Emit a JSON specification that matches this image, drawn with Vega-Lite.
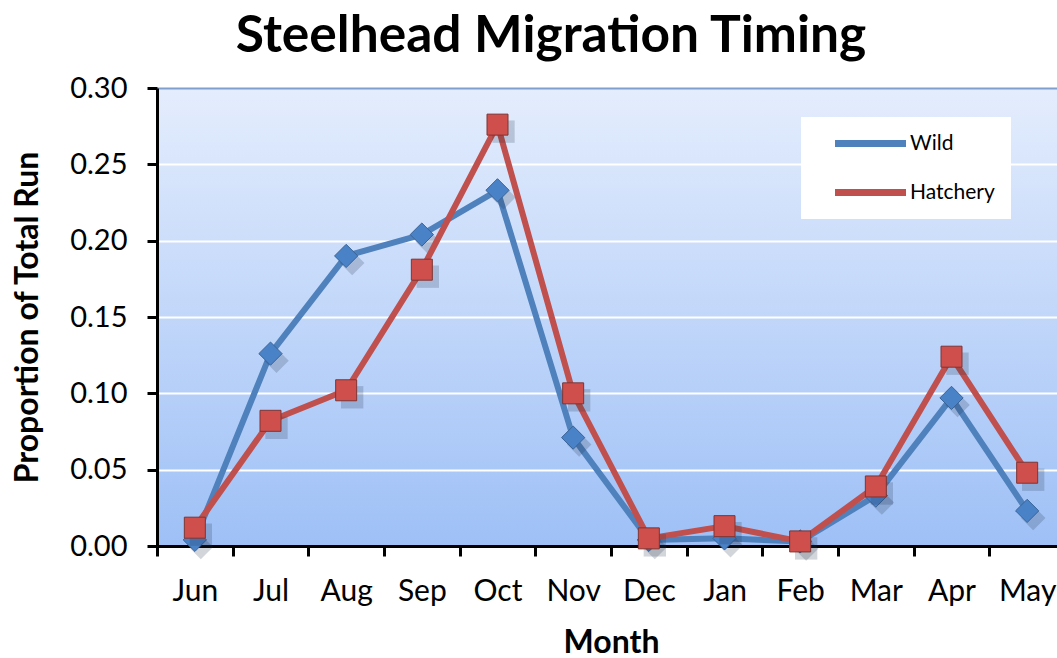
{
  "$schema": "https://vega.github.io/schema/vega-lite/v6.json",
  "width": 900,
  "height": 458,
  "autosize": {"type": "none"},
  "padding": {"left": 157, "top": 88, "right": 0, "bottom": 112},
  "background": "white",
  "title": {
    "text": "Steelhead Migration Timing",
    "font": "Lato",
    "fontSize": 51.5,
    "fontWeight": "bold",
    "color": "black",
    "anchor": "middle",
    "dx": -56,
    "offset": 12
  },
  "config": {
    "view": {
      "fill": {
        "gradient": "linear",
        "x1": 0, "y1": 0, "x2": 0, "y2": 1,
        "stops": [
          {"offset": 0, "color": "#e4edfd"},
          {"offset": 1, "color": "#9ec0f6"}
        ]
      },
      "stroke": null
    },
    "axis": {
      "labelFont": "Lato",
      "labelFontSize": 29,
      "labelColor": "black",
      "titleFont": "Lato",
      "titleFontWeight": "bold",
      "titleColor": "black",
      "domainColor": "black",
      "domainWidth": 3,
      "tickColor": "black",
      "tickWidth": 3,
      "tickSize": 10
    }
  },
  "data": {
    "values": [
      {"month": "Jun", "series": "Wild", "value": 0.004},
      {"month": "Jul", "series": "Wild", "value": 0.126},
      {"month": "Aug", "series": "Wild", "value": 0.190},
      {"month": "Sep", "series": "Wild", "value": 0.204},
      {"month": "Oct", "series": "Wild", "value": 0.233},
      {"month": "Nov", "series": "Wild", "value": 0.071},
      {"month": "Dec", "series": "Wild", "value": 0.004},
      {"month": "Jan", "series": "Wild", "value": 0.005},
      {"month": "Feb", "series": "Wild", "value": 0.003},
      {"month": "Mar", "series": "Wild", "value": 0.033},
      {"month": "Apr", "series": "Wild", "value": 0.097},
      {"month": "May", "series": "Wild", "value": 0.023},
      {"month": "Jun", "series": "Hatchery", "value": 0.012},
      {"month": "Jul", "series": "Hatchery", "value": 0.082},
      {"month": "Aug", "series": "Hatchery", "value": 0.102},
      {"month": "Sep", "series": "Hatchery", "value": 0.181},
      {"month": "Oct", "series": "Hatchery", "value": 0.276},
      {"month": "Nov", "series": "Hatchery", "value": 0.100},
      {"month": "Dec", "series": "Hatchery", "value": 0.005},
      {"month": "Jan", "series": "Hatchery", "value": 0.013},
      {"month": "Feb", "series": "Hatchery", "value": 0.003},
      {"month": "Mar", "series": "Hatchery", "value": 0.039},
      {"month": "Apr", "series": "Hatchery", "value": 0.124},
      {"month": "May", "series": "Hatchery", "value": 0.048}
    ]
  },
  "encoding": {
    "x": {
      "field": "month",
      "type": "ordinal",
      "sort": ["Jun", "Jul", "Aug", "Sep", "Oct", "Nov", "Dec", "Jan", "Feb", "Mar", "Apr", "May"],
      "scale": {"type": "band", "paddingInner": 0, "paddingOuter": 0, "range": [0, 908]},
      "axis": {
        "title": "Month",
        "titleFontSize": 32,
        "titlePadding": 21,
        "labelAngle": 0,
        "labelFontSize": 30,
        "labelPadding": 20,
        "tickBand": "extent",
        "grid": false
      }
    },
    "y": {
      "field": "value",
      "type": "quantitative",
      "scale": {"domain": [0, 0.3], "nice": false},
      "axis": {
        "title": "Proportion of Total Run",
        "titleFontSize": 32,
        "titlePadding": 25,
        "values": [0, 0.05, 0.1, 0.15, 0.2, 0.25, 0.3],
        "format": ".2f",
        "labelPadding": 20,
        "grid": true,
        "gridWidth": 2,
        "gridColor": {"condition": {"test": "datum.value >= 0.3", "value": "#7f9fcf"}, "value": "white"}
      }
    }
  },
  "layer": [
    {
      "transform": [{"filter": "datum.series === 'Wild'"}],
      "mark": {"type": "line", "strokeWidth": 6, "strokeJoin": "round", "strokeCap": "round"},
      "encoding": {
        "color": {
          "field": "series",
          "type": "nominal",
          "scale": {"domain": ["Wild", "Hatchery"], "range": ["#4f81bd", "#c0504d"]},
          "legend": {
            "title": null,
            "orient": "none",
            "legendX": 644,
            "legendY": 29,
            "fillColor": "white",
            "padding": 16,
            "symbolType": "stroke",
            "symbolStrokeWidth": 7,
            "symbolSize": 5041,
            "symbolOffset": 14.5,
            "clipHeight": 21,
            "labelFont": "Lato",
            "labelFontSize": 21,
            "labelColor": "black",
            "labelOffset": 0.5,
            "rowPadding": 27
          }
        }
      }
    },
    {
      "transform": [{"filter": "datum.series === 'Wild'"}],
      "mark": {"type": "point", "shape": "diamond", "size": 600, "filled": true, "color": "#1e2c44", "opacity": 0.2, "xOffset": 6, "yOffset": 7}
    },
    {
      "transform": [{"filter": "datum.series === 'Wild'"}],
      "mark": {"type": "point", "shape": "diamond", "size": 540, "filled": true, "fill": "#4a82c8", "stroke": "#3a6497", "strokeWidth": 1, "opacity": 1}
    },
    {
      "transform": [{"filter": "datum.series === 'Hatchery'"}],
      "mark": {"type": "line", "strokeWidth": 6, "strokeJoin": "round", "strokeCap": "round"},
      "encoding": {
        "color": {"field": "series", "type": "nominal"}
      }
    },
    {
      "transform": [{"filter": "datum.series === 'Hatchery'"}],
      "mark": {"type": "point", "shape": "square", "size": 500, "filled": true, "color": "#1e2c44", "opacity": 0.2, "xOffset": 6, "yOffset": 7}
    },
    {
      "transform": [{"filter": "datum.series === 'Hatchery'"}],
      "mark": {"type": "point", "shape": "square", "size": 441, "filled": true, "fill": "#cf4f4c", "stroke": "#7e3533", "strokeWidth": 1, "opacity": 1}
    }
  ]
}
